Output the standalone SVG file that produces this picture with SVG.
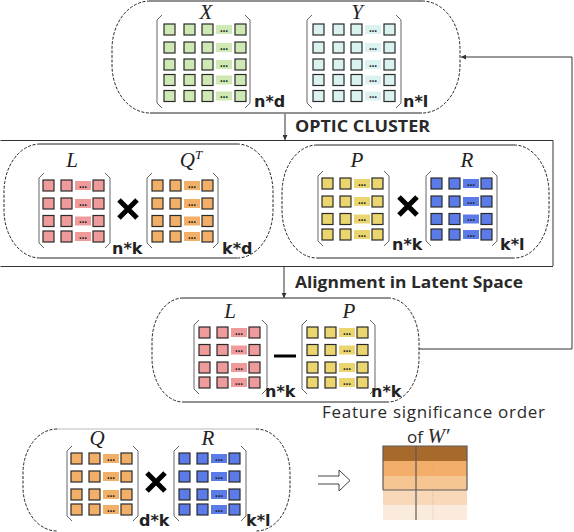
<svg xmlns="http://www.w3.org/2000/svg" xmlns:xlink="http://www.w3.org/1999/xlink" width="574" height="532" viewBox="0 0 574 532">
<style>
.dash{fill:none;stroke:#222;stroke-width:1;stroke-dasharray:3 1.6}
.edge{fill:none;stroke:#222;stroke-width:1}
.c{stroke:#2a2a2a;stroke-width:1.2}
.dt{fill:#222;font-family:"DejaVu Sans",sans-serif;font-size:8px;font-weight:bold;text-anchor:middle}
.br{fill:none;stroke:#666;stroke-width:1}
.var{font-family:"Liberation Serif",serif;font-style:italic;font-size:21px;fill:#222;text-anchor:middle}
.dim{font-family:"DejaVu Sans",sans-serif;font-weight:bold;font-size:16px;fill:#222}
.head{font-family:"Open Sans","DejaVu Sans",sans-serif;font-weight:bold;font-size:16px;fill:#2a2a2a}
.cap{font-family:"Open Sans","DejaVu Sans",sans-serif;font-size:17px;fill:#2a2a2a}
.times{fill:none;stroke:#000;stroke-width:5}
.conn{fill:none;stroke:#333;stroke-width:1}
.gX{fill:#CFE9B5}.gY{fill:#DAF3F1}.gL{fill:#F09B9B}.gQ{fill:#F2AF67}.gP{fill:#EBD56E}.gR{fill:#5B7BE8}
</style>
<defs>
<g id="r4">
<rect class="c" x="0" y="0" width="11" height="11"/>
<rect class="c" x="18" y="0" width="11" height="11"/>
<rect x="32" y="1" width="16" height="9"/>
<text class="dt" x="40" y="7.5">…</text>
<rect class="c" x="50" y="0" width="11" height="11"/>
</g>
<g id="r5">
<rect class="c" x="0" y="0" width="11" height="11"/>
<rect class="c" x="20" y="0" width="11" height="11"/>
<rect class="c" x="38" y="0" width="11" height="11"/>
<rect x="52" y="1" width="16" height="9"/>
<text class="dt" x="60" y="7.5">…</text>
<rect class="c" x="71" y="0" width="11" height="11"/>
</g>
<marker id="ah" viewBox="0 0 6 6" refX="6" refY="3" markerWidth="5" markerHeight="5" orient="auto" markerUnits="userSpaceOnUse">
<path d="M0,0 L6,3 L0,6 Z" fill="#333"/>
</marker>
</defs>

<!-- cluster container -->
<g id="cluster-box">
<path d="M0.5,140.5 H553 V266" fill="none" stroke="#333" stroke-width="1"/>
<path d="M553,141 V266" fill="none" stroke="#999" stroke-width="1"/>
<path d="M0.5,266.5 H553" fill="none" stroke="#333" stroke-width="1"/>
<text class="head" x="295" y="132" textLength="135" lengthAdjust="spacingAndGlyphs">OPTIC CLUSTER</text>
</g>

<!-- top node X, Y -->
<g id="node-xy">
<path class="dash" d="M150,1 A38,48 0 0 0 112,49 L112,65 A38,48 0 0 0 150,113 M422,1 A38,48 0 0 1 460,49 L460,65 A38,48 0 0 1 422,113"/>
<path class="edge" d="M150,1 H422 M150,113 H422"/>
<g id="matX">
<path class="br" d="M162,15 L157,20 L157,103 L162,108 M245,15 L250,20 L250,103 L245,108"/>
<use xlink:href="#r5" class="gX" x="164" y="24"/>
<use xlink:href="#r5" class="gX" x="164" y="42"/>
<use xlink:href="#r5" class="gX" x="164" y="59"/>
<use xlink:href="#r5" class="gX" x="164" y="74.5"/>
<use xlink:href="#r5" class="gX" x="164" y="90.5"/>
<text class="var" x="206" y="19">X</text>
<text class="dim" x="254" y="107">n*d</text>
</g>
<g id="matY">
<path class="br" d="M312,15 L307,20 L307,103 L312,108 M396,15 L401,20 L401,103 L396,108"/>
<use xlink:href="#r5" class="gY" x="313" y="24"/>
<use xlink:href="#r5" class="gY" x="313" y="42"/>
<use xlink:href="#r5" class="gY" x="313" y="59"/>
<use xlink:href="#r5" class="gY" x="313" y="74.5"/>
<use xlink:href="#r5" class="gY" x="313" y="90.5"/>
<text class="var" x="357" y="19">Y</text>
<text class="dim" x="403" y="107">n*l</text>
</g>
</g>

<!-- L x Q^T node -->
<g id="node-lq">
<path class="dash" d="M40,144 A36,48 0 0 0 4,192 L4,210 A36,48 0 0 0 40,258 M237,144 A36,48 0 0 1 273,192 L273,210 A36,48 0 0 1 237,258"/>
<path class="edge" d="M40,144 H237 M40,258 H237"/>
<path class="br" d="M44,173 L39,178 L39,243 L44,248 M105,173 L110,178 L110,243 L105,248"/>
<use xlink:href="#r4" class="gL" x="43" y="180"/>
<use xlink:href="#r4" class="gL" x="43" y="198"/>
<use xlink:href="#r4" class="gL" x="43" y="215.5"/>
<use xlink:href="#r4" class="gL" x="43" y="231"/>
<text class="var" x="72" y="167">L</text>
<path class="times" d="M119,200 L137,218 M137,200 L119,218"/>
<path class="br" d="M152,173 L147,178 L147,243 L152,248 M213,173 L218,178 L218,243 L213,248"/>
<use xlink:href="#r4" class="gQ" x="152" y="180"/>
<use xlink:href="#r4" class="gQ" x="152" y="198"/>
<use xlink:href="#r4" class="gQ" x="152" y="215.5"/>
<use xlink:href="#r4" class="gQ" x="152" y="231"/>
<text class="var" x="191" y="167">Q<tspan font-size="13" dy="-8">T</tspan></text>
<text class="dim" x="112" y="254">n*k</text>
<text class="dim" x="222" y="254">k*d</text>
</g>

<!-- P x R node -->
<g id="node-pr">
<path class="dash" d="M317,145 A35,48 0 0 0 282,193 L282,210 A35,48 0 0 0 317,258 M514,145 A35,48 0 0 1 549,193 L549,210 A35,48 0 0 1 514,258"/>
<path class="edge" d="M317,145 H514 M317,258 H514"/>
<path class="br" d="M323,171 L318,176 L318,241 L323,246 M384,171 L389,176 L389,241 L384,246"/>
<use xlink:href="#r4" class="gP" x="322" y="178"/>
<use xlink:href="#r4" class="gP" x="322" y="196"/>
<use xlink:href="#r4" class="gP" x="322" y="213.5"/>
<use xlink:href="#r4" class="gP" x="322" y="229"/>
<text class="var" x="357" y="167">P</text>
<path class="times" d="M399,197 L417,215 M417,197 L399,215"/>
<path class="br" d="M431,171 L426,176 L426,241 L431,246 M492,171 L497,176 L497,241 L492,246"/>
<use xlink:href="#r4" class="gR" x="431" y="178"/>
<use xlink:href="#r4" class="gR" x="431" y="196"/>
<use xlink:href="#r4" class="gR" x="431" y="213.5"/>
<use xlink:href="#r4" class="gR" x="431" y="229"/>
<text class="var" x="467" y="167">R</text>
<text class="dim" x="392" y="250">n*k</text>
<text class="dim" x="500" y="250">k*l</text>
</g>

<text class="head" x="295" y="288" textLength="228" lengthAdjust="spacingAndGlyphs">Alignment in Latent Space</text>

<!-- alignment node -->
<g id="node-align">
<path class="dash" d="M183,298 A31,44 0 0 0 152,342 L152,358 A31,44 0 0 0 183,402 M388,298 A31,44 0 0 1 419,342 L419,358 A31,44 0 0 1 388,402"/>
<path class="edge" d="M183,298 H388 M183,402 H388"/>
<path class="br" d="M199,320 L194,325 L194,389 L199,394 M262,320 L267,325 L267,389 L262,394"/>
<use xlink:href="#r4" class="gL" x="199" y="327"/>
<use xlink:href="#r4" class="gL" x="199" y="344.5"/>
<use xlink:href="#r4" class="gL" x="199" y="362"/>
<use xlink:href="#r4" class="gL" x="199" y="377"/>
<text class="var" x="230" y="318">L</text>
<path d="M274,356 H296" stroke="#000" stroke-width="3"/>
<path class="br" d="M307,320 L302,325 L302,389 L307,394 M370,320 L375,325 L375,389 L370,394"/>
<use xlink:href="#r4" class="gP" x="307" y="327"/>
<use xlink:href="#r4" class="gP" x="307" y="344.5"/>
<use xlink:href="#r4" class="gP" x="307" y="362"/>
<use xlink:href="#r4" class="gP" x="307" y="377"/>
<text class="var" x="349" y="318">P</text>
<text class="dim" x="265" y="397">n*k</text>
<text class="dim" x="371" y="397">n*k</text>
</g>

<!-- bottom Q x R node -->
<g id="node-qr">
<path class="dash" d="M57,429 A34,44 0 0 0 23,473 L23,487 A34,44 0 0 0 57,531 M256,429 A34,44 0 0 1 290,473 L290,487 A34,44 0 0 1 256,531"/>
<path d="M57,429 H256" fill="none" stroke="#bbb" stroke-width="1"/>
<path class="br" d="M72,446 L67,451 L67,516 L72,521 M133,446 L138,451 L138,516 L133,521"/>
<use xlink:href="#r4" class="gQ" x="71" y="453"/>
<use xlink:href="#r4" class="gQ" x="71" y="471"/>
<use xlink:href="#r4" class="gQ" x="71" y="489"/>
<use xlink:href="#r4" class="gQ" x="71" y="504"/>
<text class="var" x="97" y="445">Q</text>
<path class="times" d="M147,473 L165,491 M165,473 L147,491"/>
<path class="br" d="M179,446 L174,451 L174,516 L179,521 M241,446 L246,451 L246,516 L241,521"/>
<use xlink:href="#r4" class="gR" x="179" y="453"/>
<use xlink:href="#r4" class="gR" x="179" y="471"/>
<use xlink:href="#r4" class="gR" x="179" y="489"/>
<use xlink:href="#r4" class="gR" x="179" y="504"/>
<text class="var" x="208" y="445">R</text>
<text class="dim" x="139" y="526">d*k</text>
<text class="dim" x="246" y="526">k*l</text>
</g>

<!-- feature significance table -->
<g id="node-table">
<text class="cap" x="322" y="418" textLength="223" lengthAdjust="spacing">Feature significance order</text>
<text class="cap" x="407" y="443">of <tspan font-family="Liberation Serif, serif" font-style="italic" font-size="21">W′</tspan></text>
<rect x="383" y="446" width="84" height="15" fill="#A86A2C"/>
<rect x="383" y="461" width="84" height="15" fill="#F2AE6A"/>
<rect x="383" y="476" width="84" height="14" fill="#F5C592"/>
<rect x="383" y="490" width="84" height="15" fill="#F9D8BA"/>
<rect x="383" y="505" width="84" height="15" fill="#FBEBDD"/>
<path d="M433,461 V476 M433,490 V505" stroke="#E0A070" stroke-width="0.8" stroke-dasharray="1 1.5"/>
<path d="M433,505 V520" stroke="#EDD5C0" stroke-width="0.8"/>
<path d="M383,490 V446 H467 V490 M383,490 H467 M416,446 V520" fill="none" stroke="#5a5a5a" stroke-width="1.2"/>
</g>

<!-- connectors -->
<g id="connectors">
<path class="conn" d="M285,114 V140" marker-end="url(#ah)"/>
<path class="conn" d="M284,267 V298" marker-end="url(#ah)"/>
<path class="conn" d="M419,349 H572 V57 H461" marker-end="url(#ah)"/>
<path d="M318,476 H339 V470 L350,480.5 L339,491 V484 H318" fill="none" stroke="#444" stroke-width="1"/>
</g>
</svg>
